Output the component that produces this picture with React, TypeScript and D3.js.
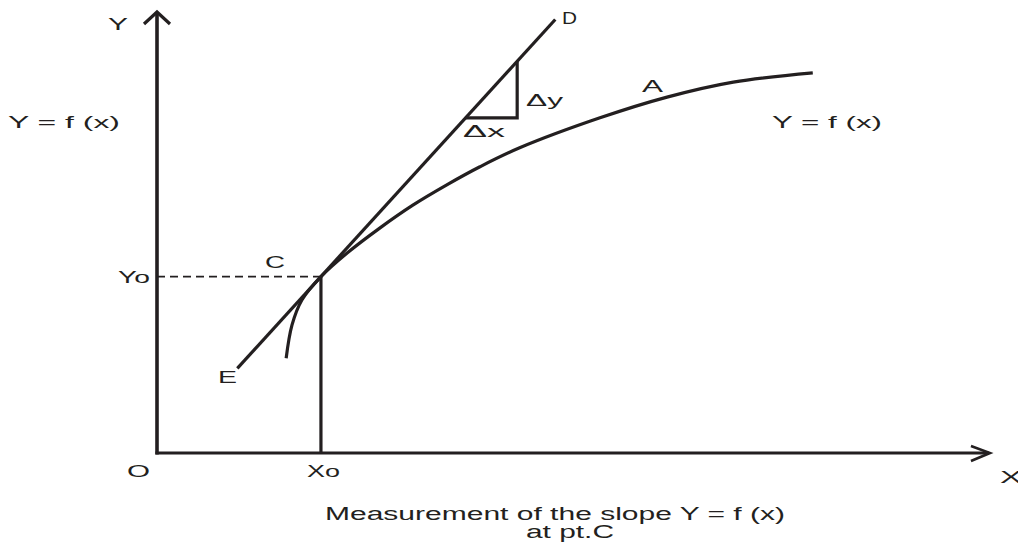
import React from "react";
import * as d3 from "d3";

// Curve Y = f(x) sample points (data units)
const curveX = [1.56, 1.63, 1.75, 1.98, 2.3, 2.69, 3.09, 3.5, 3.9, 4.38, 5.35, 6.16, 6.96, 7.92];
const curveY = [2.15, 2.9, 3.47, 4.0, 4.54, 5.1, 5.62, 6.08, 6.49, 6.92, 7.6, 8.07, 8.41, 8.62];

// Point C (x0, y0)
const pointC = [1.98, 4.0];

// Tangent line from E to D
const tangentX = [0.97, 4.81];
const tangentY = [1.92, 9.83];

// Slope triangle (Δx, Δy)
const triX = [3.73, 4.35];
const triY = [7.6, 8.88];

// Axis extents
const axisX = [0, 10.06];
const axisY = [0, 10.0];

const W = 1018;
const H = 542;
const INK = "#231f20";
const FONT = "'Liberation Sans', Arial, Helvetica, sans-serif";

export default function App() {
  const x = d3.scaleLinear().domain([0, 10]).range([157, 985]);
  const y = d3.scaleLinear().domain([0, 10]).range([453, 12]);

  const curvePts: [number, number][] = curveX.map((v, i) => [v, curveY[i]]);
  const curvePath = d3
    .line<[number, number]>()
    .x((d) => x(d[0]))
    .y((d) => y(d[1]))
    .curve(d3.curveCatmullRom.alpha(0.5))(curvePts) as string;

  const ox = x(0);
  const oy = y(0);
  const xTip = x(axisX[1]);
  const yTip = y(axisY[1]);
  const cx = x(pointC[0]);
  const cy = y(pointC[1]);

  const triPath = d3.line()([
    [x(triX[0]), y(triY[0])],
    [x(triX[1]), y(triY[0])],
    [x(triX[1]), y(triY[1])],
  ]) as string;

  const txt = (
    s: string,
    px: number,
    py: number,
    len: number,
    size = 17,
    anchor: "start" | "middle" = "start"
  ) => (
    <text
      x={px}
      y={py}
      fontSize={size}
      fontFamily={FONT}
      fill={INK}
      textAnchor={anchor}
      textLength={len}
      lengthAdjust="spacingAndGlyphs"
    >
      {s}
    </text>
  );

  return (
    <svg
      width={W}
      height={H}
      style={{ position: "absolute", left: 0, top: 0, display: "block", background: "#fff" }}
    >
      <rect x={0} y={0} width={W} height={H} fill="#fff" />
      {/* Axes */}
      <line x1={ox} y1={oy + 1.5} x2={ox} y2={yTip + 1} stroke={INK} strokeWidth={3.6} />
      <line x1={ox - 1.5} y1={oy} x2={xTip - 1} y2={oy} stroke={INK} strokeWidth={3.2} />
      {/* Arrow heads */}
      <polyline
        points={`${ox - 13},${yTip + 12} ${ox},${yTip} ${ox + 13},${yTip + 12}`}
        fill="none"
        stroke={INK}
        strokeWidth={3.2}
      />
      <polyline
        points={`${xTip - 19},${oy - 7} ${xTip},${oy} ${xTip - 19},${oy + 8}`}
        fill="none"
        stroke={INK}
        strokeWidth={2.6}
      />
      {/* Dashed Y0 line */}
      <line x1={ox} y1={cy} x2={cx} y2={cy} stroke={INK} strokeWidth={1.9} strokeDasharray="8,5" />
      {/* Vertical X0 line */}
      <line x1={cx} y1={cy} x2={cx} y2={oy} stroke={INK} strokeWidth={3.2} />
      {/* Curve */}
      <path d={curvePath} fill="none" stroke={INK} strokeWidth={3.2} strokeLinecap="butt" />
      {/* Tangent */}
      <line
        x1={x(tangentX[0])}
        y1={y(tangentY[0])}
        x2={x(tangentX[1])}
        y2={y(tangentY[1])}
        stroke={INK}
        strokeWidth={3.2}
      />
      {/* Slope triangle */}
      <path d={triPath} fill="none" stroke={INK} strokeWidth={3.2} strokeLinejoin="miter" />

      {/* Labels */}
      {txt("Y", 108, 30, 20)}
      {txt("Y = f (x)", 8, 128, 112)}
      {txt("Y = f (x)", 772, 128, 110)}
      {txt("D", 562, 24, 15)}
      {txt("Δy", 526, 106, 37)}
      {txt("Δx", 463, 137, 42)}
      {txt("A", 642, 92, 21)}
      {txt("C", 265, 268, 20)}
      {txt("Yo", 118, 283, 32)}
      {txt("E", 218, 383, 19)}
      {txt("O", 127, 477, 23)}
      {txt("Xo", 307, 477, 33)}
      {txt("X", 1000, 483, 22)}
      {txt("Measurement of the slope Y = f (x)", 325, 520, 460, 18)}
      {txt("at pt.C", 526, 538, 88, 18)}
    </svg>
  );
}
